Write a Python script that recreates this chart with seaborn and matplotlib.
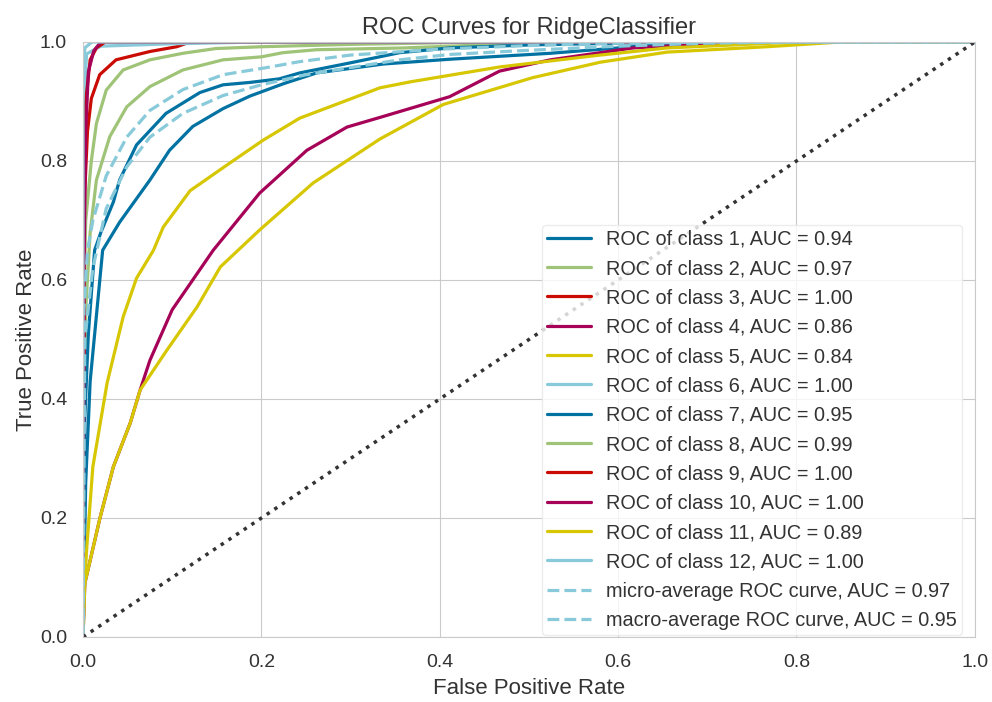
import pandas as pd
import numpy as np
import matplotlib
matplotlib.use('Agg')
import matplotlib.pyplot as plt
import seaborn as sns

# ROC curve points (fpr, tpr)
fpr_c1 = [0, 0.003, 0.008, 0.015, 0.022, 0.041, 0.075, 0.097, 0.123, 0.157, 0.187, 0.225, 0.262, 0.337, 0.411, 0.524, 0.6, 0.68, 1.0]
tpr_c1 = [0, 0.26, 0.43, 0.54, 0.65, 0.697, 0.768, 0.818, 0.858, 0.888, 0.909, 0.93, 0.948, 0.963, 0.971, 0.981, 0.99, 1.0, 1.0]

fpr_c2 = [0, 0.001, 0.003, 0.008, 0.015, 0.03, 0.049, 0.075, 0.112, 0.157, 0.2, 0.224, 0.262, 0.36, 0.5, 0.6, 1.0]
tpr_c2 = [0, 0.3, 0.55, 0.68, 0.768, 0.841, 0.891, 0.925, 0.953, 0.97, 0.975, 0.982, 0.987, 0.99, 0.998, 1.0, 1.0]

fpr_c3 = [0, 0.001, 0.002, 0.005, 0.0093, 0.0187, 0.037, 0.075, 0.105, 0.12, 1.0]
tpr_c3 = [0, 0.4, 0.75, 0.85, 0.905, 0.945, 0.97, 0.984, 0.992, 1.0, 1.0]

fpr_c4 = [0, 0.002, 0.019, 0.034, 0.053, 0.064, 0.075, 0.1, 0.123, 0.146, 0.198, 0.251, 0.296, 0.337, 0.411, 0.467, 0.524, 0.617, 0.7, 0.8, 1.0]
tpr_c4 = [0, 0.09, 0.2, 0.286, 0.36, 0.415, 0.465, 0.55, 0.6, 0.65, 0.746, 0.818, 0.857, 0.875, 0.908, 0.951, 0.97, 0.99, 0.997, 1.0, 1.0]

fpr_c5 = [0, 0.002, 0.019, 0.034, 0.053, 0.064, 0.094, 0.128, 0.154, 0.198, 0.258, 0.333, 0.404, 0.504, 0.58, 0.655, 0.767, 0.85, 1.0]
tpr_c5 = [0, 0.09, 0.2, 0.286, 0.36, 0.415, 0.482, 0.555, 0.622, 0.684, 0.763, 0.837, 0.895, 0.94, 0.966, 0.983, 0.992, 1.0, 1.0]

fpr_c6 = [0, 0.001, 0.004, 0.02, 0.1, 0.2, 1.0]
tpr_c6 = [0, 0.9, 0.98, 0.993, 0.997, 1.0, 1.0]

fpr_c7 = [0, 0.002, 0.006, 0.013, 0.02, 0.034, 0.041, 0.06, 0.093, 0.131, 0.157, 0.187, 0.22, 0.243, 0.3, 0.355, 0.411, 0.5, 0.6, 0.7, 1.0]
tpr_c7 = [0, 0.37, 0.51, 0.65, 0.68, 0.731, 0.768, 0.827, 0.88, 0.915, 0.928, 0.932, 0.938, 0.948, 0.965, 0.982, 0.99, 0.995, 0.998, 1.0, 1.0]

fpr_c8 = [0, 0.0, 0.003, 0.0093, 0.015, 0.026, 0.045, 0.075, 0.112, 0.149, 0.2, 0.3, 0.45, 1.0]
tpr_c8 = [0, 0.5, 0.7, 0.8, 0.863, 0.919, 0.953, 0.97, 0.981, 0.989, 0.992, 0.996, 1.0, 1.0]

fpr_c9 = [0, 0.001, 0.003, 0.008, 0.015, 0.025, 1.0]
tpr_c9 = [0, 0.7, 0.9, 0.97, 0.99, 1.0, 1.0]

fpr_c10 = [0, 0.001, 0.003, 0.006, 0.012, 0.02, 1.0]
tpr_c10 = [0, 0.6, 0.85, 0.95, 0.985, 1.0, 1.0]

fpr_c11 = [0, 0.001, 0.004, 0.011, 0.027, 0.045, 0.06, 0.079, 0.09, 0.12, 0.165, 0.202, 0.243, 0.333, 0.367, 0.467, 0.58, 0.655, 0.73, 0.8, 1.0]
tpr_c11 = [0, 0.067, 0.146, 0.286, 0.427, 0.538, 0.603, 0.65, 0.689, 0.75, 0.797, 0.835, 0.872, 0.923, 0.933, 0.958, 0.978, 0.99, 0.995, 1.0, 1.0]

fpr_c12 = [0, 0.0, 0.002, 0.01, 1.0]
tpr_c12 = [0, 0.95, 0.99, 1.0, 1.0]

fpr_micro = [0, 0.001, 0.005, 0.011, 0.026, 0.049, 0.075, 0.112, 0.157, 0.206, 0.243, 0.3, 0.4, 0.5, 0.6, 0.7, 1.0]
tpr_micro = [0, 0.55, 0.65, 0.7, 0.775, 0.84, 0.885, 0.92, 0.945, 0.957, 0.967, 0.978, 0.988, 0.994, 0.998, 1.0, 1.0]

fpr_macro = [0, 0.002, 0.011, 0.026, 0.049, 0.075, 0.112, 0.157, 0.2, 0.25, 0.3, 0.355, 0.411, 0.486, 0.6, 0.7, 0.8, 1.0]
tpr_macro = [0, 0.5, 0.62, 0.72, 0.79, 0.84, 0.88, 0.91, 0.928, 0.945, 0.957, 0.97, 0.979, 0.985, 0.993, 0.998, 1.0, 1.0]

class_auc = ['0.94', '0.97', '1.00', '0.86', '0.84', '1.00', '0.95', '0.99', '1.00', '1.00', '0.89', '1.00']
micro_auc = '0.97'
macro_auc = '0.95'

# yellowbrick palette
palette = ["#0272a2", "#9fc377", "#ca0b03", "#a50258", "#d7c703", "#88cada"]

sns.set_style('whitegrid', {'grid.color': '#cacaca', 'axes.edgecolor': '#cacaca'})
plt.rcParams['font.family'] = ['Liberation Sans', 'DejaVu Sans']
plt.rcParams['text.color'] = '#333333'
plt.rcParams['axes.labelcolor'] = '#333333'
plt.rcParams['xtick.color'] = '#333333'
plt.rcParams['ytick.color'] = '#333333'

fig = plt.figure(figsize=(9.92, 7.02), dpi=100)
ax = fig.add_axes([0.0837, 0.0926, 0.899, 0.8476])

fprs = [fpr_c1, fpr_c2, fpr_c3, fpr_c4, fpr_c5, fpr_c6, fpr_c7, fpr_c8, fpr_c9, fpr_c10, fpr_c11, fpr_c12]
tprs = [tpr_c1, tpr_c2, tpr_c3, tpr_c4, tpr_c5, tpr_c6, tpr_c7, tpr_c8, tpr_c9, tpr_c10, tpr_c11, tpr_c12]

for i in range(12):
    sns.lineplot(x=fprs[i], y=tprs[i], ax=ax, color=palette[i % 6], lw=2.3,
                 sort=False, estimator=None,
                 label='ROC of class {}, AUC = {}'.format(i + 1, class_auc[i]))

sns.lineplot(x=fpr_micro, y=tpr_micro, ax=ax, color=palette[5], lw=2.3, sort=False,
             estimator=None, linestyle='--',
             label='micro-average ROC curve, AUC = ' + micro_auc)
sns.lineplot(x=fpr_macro, y=tpr_macro, ax=ax, color=palette[5], lw=2.3, sort=False,
             estimator=None, linestyle='--',
             label='macro-average ROC curve, AUC = ' + macro_auc)

# diagonal
sns.lineplot(x=[0, 1], y=[0, 1], ax=ax, color='#333333', lw=2.5, linestyle=':')

ax.set_xlim(0, 1)
ax.set_ylim(0, 1)
ax.set_xticks([0, 0.2, 0.4, 0.6, 0.8, 1.0])
ax.set_yticks([0, 0.2, 0.4, 0.6, 0.8, 1.0])
ax.tick_params(axis='x', labelsize=14, pad=9)
ax.tick_params(axis='y', labelsize=14, pad=8)
ax.set_xlabel('False Positive Rate', fontsize=16, labelpad=5)
ax.set_ylabel('True Positive Rate', fontsize=16, labelpad=2)
ax.set_title('ROC Curves for RidgeClassifier', fontsize=17)

leg = ax.legend(loc='lower right', bbox_to_anchor=(0.988, 0.0), fontsize=14.3, frameon=True,
                labelspacing=0.52, handlelength=2.2, borderpad=0.25, borderaxespad=0.1,
                facecolor='white', edgecolor='#e8e8e8')
for line in leg.get_lines():
    line.set_linewidth(2.3)

fig.savefig('out.png', dpi=100)
